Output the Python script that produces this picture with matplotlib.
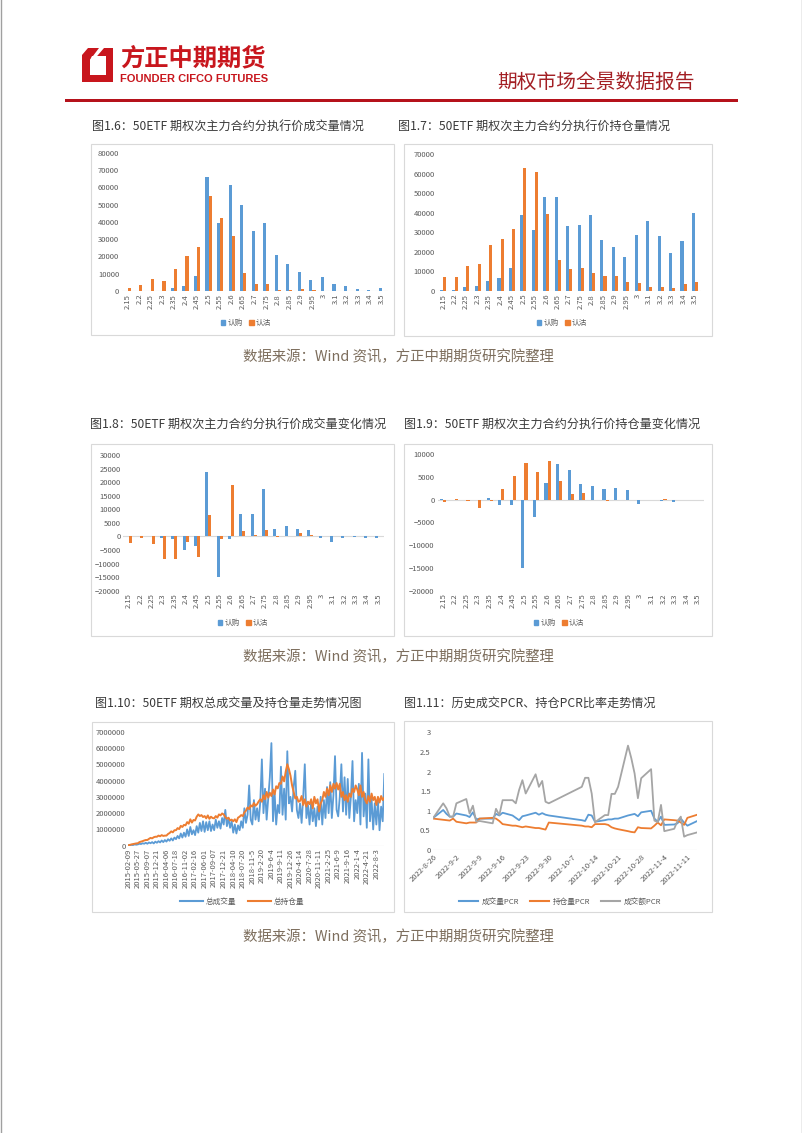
import numpy as np
import pandas as pd
import matplotlib
matplotlib.use('Agg')
import matplotlib.pyplot as plt
from matplotlib.patches import Patch, Polygon, Rectangle
from matplotlib.lines import Line2D

plt.rcParams['font.family'] = ['Noto Sans CJK SC', 'DejaVu Sans']

W, H = 802, 1133
BLUE = '#5B9BD5'
ORANGE = '#ED7D31'
GRAY = '#A5A5A5'
TICK = '#595959'
RED = '#C8161D'

# ---- data ----
strikes = ['2.15', '2.2', '2.25', '2.3', '2.35', '2.4', '2.45', '2.5', '2.55', '2.6', '2.65', '2.7',
           '2.75', '2.8', '2.85', '2.9', '2.95', '3', '3.1', '3.2', '3.3', '3.4', '3.5']

call_vol = [200, 0, 0, 0, 1500, 2900, 8700, 66300, 39200, 61300, 49900, 34800,
            39600, 20900, 15500, 11000, 6600, 7900, 4000, 2700, 1400, 600, 1500]
put_vol = [1700, 3500, 6800, 6000, 12800, 20300, 25500, 55100, 42300, 31900, 10200, 4300,
           4100, 800, 800, 1400, 400, 0, 0, 0, 0, 0, 0]

call_oi = [500, 300, 2000, 2600, 5100, 6600, 11900, 38800, 31000, 47900, 47900, 33000,
           33900, 38700, 26100, 22300, 17200, 28400, 35600, 28100, 19600, 25400, 40000]
put_oi = [7300, 7200, 12800, 13600, 23300, 26700, 31700, 62900, 60600, 39400, 16000, 11100,
          11800, 9200, 7800, 7500, 4600, 4300, 2200, 2200, 1700, 3600, 4600]

call_vol_chg = [0, 0, 0, -400, -900, -4900, -3600, 23700, -14900, -1100, 8200, 8100,
                17300, 2600, 3800, 2600, 2500, -700, -2100, -600, -100, -600, -600]
put_vol_chg = [-2600, -700, -2700, -8200, -8200, -2200, -7700, 7900, -1100, 18900, 2000, 700,
               2500, -100, 0, 1100, 400, 0, 0, 200, 0, 0, 0]

call_oi_chg = [100, -100, -150, 0, 350, -1300, -1300, -15100, -3800, 3600, 7800, 6500,
               3400, 2900, 2400, 2500, 2100, -1000, -100, -250, -600, -100, -100]
put_oi_chg = [-550, 200, -400, -1800, -400, 2300, 5200, 8000, 6100, 8500, 4100, 1200,
              1400, -100, -250, -100, 0, 0, 0, 200, 0, -100, -100]

# total volume / open interest, in units of 10,000 contracts, 6 points per label step
hist_labels = ['2015-02-09', '2015-05-27', '2015-09-07', '2015-12-21', '2016-04-06', '2016-07-18',
               '2016-11-02', '2017-02-16', '2017-06-01', '2017-09-07', '2017-12-21', '2018-04-10',
               '2018-07-20', '2018-11-5', '2019-2-20', '2019-6-4', '2019-9-11', '2019-12-26',
               '2020-4-14', '2020-7-28', '2020-11-11', '2021-2-25', '2021-6-9', '2021-9-16',
               '2022-1-4', '2022-4-21', '2022-8-3']
total_vol = [2, 3, 5, 4, 8, 6, 8, 12, 10, 15, 12, 18, 12, 20, 15, 22, 14, 25,
             18, 28, 20, 32, 22, 35, 25, 40, 30, 45, 32, 50, 40, 60, 45, 75, 50, 80,
             55, 100, 60, 115, 70, 95, 65, 120, 80, 140, 90, 150, 85, 145, 95, 150, 90, 130,
             95, 160, 110, 150, 105, 170, 130, 220, 120, 170, 110, 150, 80, 130, 75, 125, 95, 150,
             110, 230, 140, 190, 370, 160, 130, 280, 160, 230, 150, 270, 530, 200, 350, 160, 290, 420,
             630, 150, 330, 130, 250, 200, 485, 190, 350, 160, 580, 260, 300, 210, 360, 460, 220, 170,
             260, 140, 300, 500, 170, 250, 130, 270, 150, 230, 120, 240, 160, 300, 130, 280, 170, 360,
             200, 390, 170, 310, 550, 220, 180, 300, 500, 210, 420, 190, 410, 170, 300, 520, 150, 280,
             200, 380, 130, 570, 180, 320, 110, 530, 150, 290, 100, 260, 130, 280, 95, 240, 150, 440]
total_oi = [3, 5, 8, 10, 12, 14, 15, 22, 25, 28, 32, 35, 35, 42, 48, 45, 52, 55,
            55, 62, 58, 65, 60, 62, 62, 72, 78, 88, 82, 95, 95, 108, 102, 122, 115, 128,
            125, 145, 135, 162, 142, 158, 155, 178, 192, 182, 188, 176, 182, 168, 186, 165, 178, 170,
            168, 182, 172, 192, 186, 198, 192, 176, 166, 172, 155, 160, 150, 162, 145, 172, 178, 188,
            182, 205, 215, 235, 225, 248, 240, 262, 245, 255, 272, 285, 270, 310, 285, 330, 295, 325,
            305, 345, 315, 365, 352, 385, 380, 425, 395, 455, 500, 470, 430, 370, 330, 290, 300, 270,
            275, 305, 250, 285, 240, 270, 255, 285, 230, 300, 260, 285, 210, 260, 280, 330, 300, 350,
            310, 370, 330, 380, 350, 385, 345, 380, 300, 330, 280, 310, 270, 320, 300, 350, 330, 370,
            345, 310, 370, 300, 330, 280, 260, 305, 270, 320, 280, 300, 250, 300, 265, 305, 280, 295]

pcr_dates = ['2022-08-26', '2022-08-29', '2022-08-30', '2022-08-31', '2022-09-01', '2022-09-02',
             '2022-09-05', '2022-09-06', '2022-09-07', '2022-09-08', '2022-09-09', '2022-09-13',
             '2022-09-14', '2022-09-15', '2022-09-16', '2022-09-19', '2022-09-20', '2022-09-21',
             '2022-09-22', '2022-09-23', '2022-09-26', '2022-09-27', '2022-09-28', '2022-09-29',
             '2022-09-30', '2022-10-10', '2022-10-11', '2022-10-12', '2022-10-13', '2022-10-14',
             '2022-10-17', '2022-10-18', '2022-10-19', '2022-10-20', '2022-10-21', '2022-10-24',
             '2022-10-25', '2022-10-26', '2022-10-27', '2022-10-28', '2022-10-31', '2022-11-01',
             '2022-11-02', '2022-11-03', '2022-11-04', '2022-11-07', '2022-11-08', '2022-11-09',
             '2022-11-10', '2022-11-11', '2022-11-14']
vol_pcr = [0.82, 1.02, 0.92, 0.85, 0.85, 0.93, 0.88, 0.84, 0.96, 0.78, 0.80, 0.80,
           0.92, 0.88, 0.95, 0.88, 0.82, 0.76, 0.86, 0.88, 0.95, 0.90, 0.94, 0.90,
           0.88, 0.76, 0.74, 0.90, 0.88, 0.72, 0.76, 0.78, 0.78, 0.80, 0.80, 0.88,
           0.90, 0.92, 0.86, 0.96, 1.00, 0.80, 0.72, 0.85, 0.64, 0.65, 0.68, 0.80,
           0.70, 0.62, 0.74]
oi_pcr = [0.80, 0.77, 0.76, 0.75, 0.80, 0.72, 0.68, 0.70, 0.70, 0.70, 0.80, 0.82,
          0.80, 0.74, 0.66, 0.62, 0.62, 0.60, 0.58, 0.60, 0.56, 0.56, 0.54, 0.52,
          0.70, 0.62, 0.60, 0.60, 0.58, 0.66, 0.66, 0.64, 0.58, 0.55, 0.53, 0.48,
          0.46, 0.45, 0.58, 0.56, 0.55, 0.62, 0.70, 0.63, 0.78, 0.76, 0.75, 0.70,
          0.64, 0.82, 0.90]
amt_pcr = [0.82, 1.19, 1.06, 0.85, 0.85, 1.19, 1.30, 0.93, 1.13, 0.72, 0.74, 0.68,
           1.05, 0.89, 1.27, 1.27, 1.19, 1.53, 1.78, 1.44, 1.93, 1.61, 1.76, 1.23,
           1.19, 1.61, 1.84, 1.84, 1.44, 0.71, 0.89, 0.89, 1.43, 1.43, 1.61, 2.66,
           2.34, 1.95, 1.32, 1.83, 2.06, 0.75, 0.71, 1.15, 0.48, 0.54, 0.74, 0.85,
           0.34, 0.38, 0.45]

# ---- page ----
fig = plt.figure(figsize=(W / 100, H / 100), dpi=100)
pg = fig.add_axes([0, 0, 1, 1])
pg.set_xlim(0, W)
pg.set_ylim(H, 0)
pg.axis('off')

pg.plot([0.5, 0.5], [0, H], color='#A0A0A0', lw=1)
pg.plot([W - 0.5, W - 0.5], [0, H], color='#A0A0A0', lw=1)

# logo
pg.add_patch(Polygon([(88, 48), (113, 48), (113, 82), (82, 82), (82, 55)], closed=True, color=RED, lw=0))
pg.add_patch(Polygon([(92, 56), (106, 56), (106, 75), (90, 75), (90, 60)], closed=True, color='white', lw=0))
pg.add_patch(Polygon([(99, 48), (104, 48), (92, 62), (90, 60)], closed=True, color='white', lw=0))
pg.text(120, 58, '方正中期期货', color=RED, fontsize=17.5, fontweight='bold', va='center', ha='left')
pg.text(120, 79, 'FOUNDER CIFCO FUTURES', color=RED, fontsize=8.0, fontweight='bold',
        va='center', ha='left', family=['Liberation Sans Narrow', 'Liberation Sans', 'DejaVu Sans'])
pg.text(695, 82, '期权市场全景数据报告', color='#A31F24', fontsize=14.2, va='center', ha='right')
pg.add_patch(Rectangle((65, 98.5), 673, 3.2, color='#B5121B', lw=0))

titles = [
    (92, 126, '图1.6：50ETF 期权次主力合约分执行价成交量情况'),
    (398, 126, '图1.7：50ETF 期权次主力合约分执行价持仓量情况'),
    (90, 424, '图1.8：50ETF 期权次主力合约分执行价成交量变化情况'),
    (404, 424, '图1.9：50ETF 期权次主力合约分执行价持仓量变化情况'),
    (95, 703, '图1.10：50ETF 期权总成交量及持仓量走势情况图'),
    (404, 703, '图1.11：历史成交PCR、持仓PCR比率走势情况'),
]
for x, y, s in titles:
    pg.text(x, y, s, fontsize=8.7, color='#3a3a3a', va='center', ha='left')

for y in (357, 657, 937):
    pg.text(398, y, '数据来源：Wind 资讯，方正中期期货研究院整理', fontsize=10.4,
            color='#7d6e5d', va='center', ha='center')

boxes = [(91, 144, 394, 335), (404, 144, 712, 336), (91, 444, 394, 636),
         (404, 444, 712, 636), (92, 722, 394, 912), (404, 721, 712, 912)]
for l, t, r, b in boxes:
    pg.add_patch(Rectangle((l, t), r - l, b - t, fill=False, edgecolor='#D9D9D9', lw=0.8))


def px_axes(l, t, r, b):
    return fig.add_axes([l / W, 1 - b / H, (r - l) / W, (b - t) / H])


def clean(ax):
    for s in ax.spines.values():
        s.set_visible(False)
    ax.patch.set_alpha(0)
    ax.tick_params(length=0, labelsize=5.5, colors=TICK, pad=2)


def bar_chart(area, calls, puts, lo, hi, step, lx, ly):
    ax = px_axes(*area)
    x = np.arange(len(strikes))
    w = 0.27
    ax.bar(x - w / 2, calls, w, color=BLUE)
    ax.bar(x + w / 2, puts, w, color=ORANGE)
    ax.axhline(0, color='#D9D9D9', lw=0.8, zorder=0)
    ax.set_xlim(-0.5, len(strikes) - 0.5)
    ax.set_ylim(lo, hi)
    ax.set_yticks(np.arange(lo, hi + 1, step))
    ax.set_xticks(x)
    ax.set_xticklabels(strikes, rotation=90)
    clean(ax)
    ax.legend(handles=[Patch(color=BLUE, label='认购'), Patch(color=ORANGE, label='认沽')],
              loc='center', bbox_to_anchor=(lx, ly), bbox_transform=pg.transData, ncol=2,
              frameon=False, fontsize=5.5, handlelength=0.6, handleheight=0.6,
              columnspacing=0.8, handletextpad=0.3, labelcolor=TICK)
    return ax


bar_chart((122, 153, 387.5, 291), call_vol, put_vol, 0, 80000, 10000, 246, 323)
bar_chart((437.6, 154, 700.7, 291), call_oi, put_oi, 0, 70000, 10000, 562, 323)
bar_chart((123.3, 455, 384, 590.7), call_vol_chg, put_vol_chg, -20000, 30000, 5000, 243, 623)
bar_chart((437.5, 454, 704, 590.7), call_oi_chg, put_oi_chg, -20000, 10000, 5000, 559, 623)

# ---- total volume / OI ----
ax5 = px_axes(128.3, 731.7, 384.3, 845.7)
idx = np.arange(len(total_vol))
ax5.plot(idx, np.array(total_vol) * 1e4, color=BLUE, lw=1.3)
ax5.plot(idx, np.array(total_oi) * 1e4, color=ORANGE, lw=1.4)
ax5.axhline(0, color='#D9D9D9', lw=0.8, zorder=0)
ax5.set_xlim(0, len(total_vol) - 1)
ax5.set_ylim(0, 7000000)
ax5.set_yticks(np.arange(0, 7000001, 1000000))
ax5.set_yticklabels([str(v) for v in range(0, 7000001, 1000000)])
ax5.set_xticks(np.arange(len(hist_labels)) * 6)
ax5.set_xticklabels(hist_labels, rotation=90)
clean(ax5)
ax5.legend(handles=[Line2D([], [], color=BLUE, lw=1.5, label='总成交量'),
                    Line2D([], [], color=ORANGE, lw=1.5, label='总持仓量')],
           loc='center', bbox_to_anchor=(242, 902), bbox_transform=pg.transData, ncol=2,
           frameon=False, fontsize=5.5, handlelength=3, columnspacing=1.5, handletextpad=0.4,
           labelcolor=TICK)

# ---- PCR ----
ax6 = px_axes(433.3, 732.3, 697.3, 850)
d = pd.to_datetime(pcr_dates)
ax6.plot(d, vol_pcr, color=BLUE, lw=1.3)
ax6.plot(d, oi_pcr, color=ORANGE, lw=1.3)
ax6.plot(d, amt_pcr, color=GRAY, lw=1.3)
ax6.axhline(0, color='#D9D9D9', lw=0.8, zorder=0)
ax6.set_xlim(d[0], d[-1])
ax6.set_ylim(0, 3)
ax6.set_yticks(np.arange(0, 3.01, 0.5))
ax6.set_yticklabels(['0', '0.5', '1', '1.5', '2', '2.5', '3'])
ticks = pd.date_range('2022-08-26', periods=12, freq='7D')
ax6.set_xticks(ticks)
ax6.set_xticklabels([f'{t.year}-{t.month}-{t.day}' for t in ticks], rotation=45,
                    ha='right', rotation_mode='anchor')
clean(ax6)
ax6.legend(handles=[Line2D([], [], color=BLUE, lw=1.5, label='成交量PCR'),
                    Line2D([], [], color=ORANGE, lw=1.5, label='持仓量PCR'),
                    Line2D([], [], color=GRAY, lw=1.5, label='成交额PCR')],
           loc='center', bbox_to_anchor=(560, 902), bbox_transform=pg.transData, ncol=3,
           frameon=False, fontsize=5.5, handlelength=2.5, columnspacing=1.5, handletextpad=0.4,
           labelcolor=TICK)

fig.savefig('out.png', dpi=100)
